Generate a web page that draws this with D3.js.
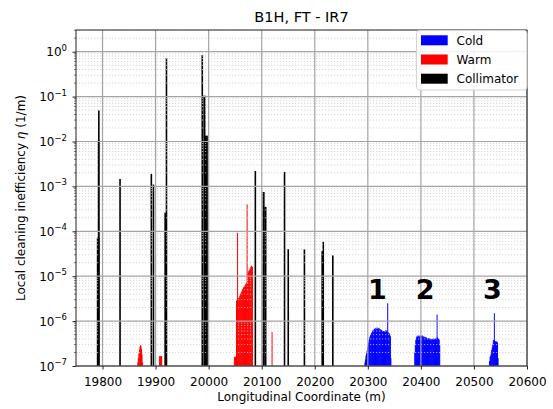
<!DOCTYPE html>
<html>
<head>
<meta charset="utf-8">
<script src="https://cdn.jsdelivr.net/npm/d3@7"></script>
<style>
body { margin: 0; background: #fff; }
text { font-family: "DejaVu Sans", sans-serif; fill: #000; }
</style>
</head>
<body>
<script>
// collimators: centre (m), length (m), eta (1/m)
var collPos = [19791.7, 19792.5, 19793, 19833, 19892, 19896, 19919, 19920.5, 19988, 19992, 19995.5,
               20088, 20103.5, 20107, 20143, 20150, 20180.5, 20214, 20216, 20234];
var collLen = [5, 3, 1, 1, 3, 3, 5, 1, 2, 4, 6, 1, 4, 4, 1, 1, 1, 3, 1.5, 1];
var collVal = [7.2e-5, 0.0105, 0.049, 1.46e-3, 1.9e-3, 1.1e-3, 2.6e-4, 0.72, 0.84, 0.105, 0.0135,
               2.2e-3, 7.5e-4, 3.5e-4, 2.1e-3, 4.0e-5, 4.0e-5, 3.6e-5, 5.8e-5, 2.9e-5];

// warm losses, 1 m bins starting at each start position
var warmStart = [19866, 19907, 20048, 20119];
var warmVals = [
  [1.2e-7, 1.5e-7, 1.9e-7, 2.3e-7, 2.7e-7, 2.9e-7, 2.8e-7, 2.4e-7, 1.8e-7, 1.2e-7],
  [1.65e-7, 1.65e-7, 1.65e-7, 1.65e-7, 1.65e-7],
  [1.6e-7, 1.6e-7, 1.6e-7, 1.6e-7, 2.8e-6, 3.0e-6, 9.3e-5, 3.1e-6, 3.3e-6, 3.2e-6,
   3.6e-6, 3.9e-6, 4.1e-6, 4.4e-6, 4.6e-6, 5.0e-6, 5.2e-6, 5.5e-6, 5.8e-6, 6.0e-6,
   6.3e-6, 6.5e-6, 6.8e-6, 7.0e-6, 4.0e-4, 7.2e-6, 1.2e-5, 1.3e-5, 1.35e-5, 1.4e-5,
   1.5e-5, 1.6e-5, 1.7e-5, 1.7e-5, 1.6e-5],
  [5.7e-7]
];

// cold losses, 1 m bins
var coldStart = [20294, 20388, 20529];
var coldVals = [
  [1.2e-7, 1.4e-7, 1.7e-7, 1.9e-7, 2.2e-7, 2.6e-7, 2.9e-7, 3.3e-7, 3.8e-7, 4.3e-7,
   4.6e-7, 5.0e-7, 5.3e-7, 5.5e-7, 5.9e-7, 6.2e-7, 6.4e-7, 6.1e-7, 6.7e-7, 6.9e-7,
   6.5e-7, 7.1e-7, 6.8e-7, 7.2e-7, 6.6e-7, 7.0e-7, 6.7e-7, 7.1e-7, 6.4e-7, 6.6e-7,
   6.2e-7, 6.4e-7, 5.9e-7, 6.1e-7, 5.8e-7, 6.0e-7, 5.7e-7, 5.9e-7, 5.8e-7, 6.2e-7,
   6.3e-7, 6.0e-7, 5.8e-7, 2.5e-6, 5.6e-7, 5.4e-7, 5.3e-7, 5.0e-7, 4.6e-7, 1.5e-7],
  [2.0e-7, 3.0e-7, 3.8e-7, 4.3e-7, 4.6e-7, 4.4e-7, 4.8e-7, 4.5e-7, 4.7e-7, 4.4e-7,
   4.8e-7, 4.6e-7, 4.7e-7, 4.5e-7, 4.8e-7, 4.4e-7, 4.6e-7, 4.3e-7, 4.5e-7, 4.2e-7,
   4.4e-7, 4.0e-7, 4.3e-7, 4.1e-7, 3.9e-7, 4.2e-7, 4.0e-7, 4.2e-7, 3.8e-7, 4.1e-7,
   3.9e-7, 4.0e-7, 3.7e-7, 4.0e-7, 3.8e-7, 4.1e-7, 3.9e-7, 4.0e-7, 3.8e-7, 4.1e-7,
   4.0e-7, 4.2e-7, 1.4e-6, 4.3e-7, 4.1e-7, 4.0e-7, 3.9e-7, 3.0e-7],
  [1.3e-7, 1.6e-7, 1.7e-7, 1.9e-7, 2.3e-7, 2.6e-7, 3.0e-7, 3.7e-7, 3.8e-7, 1.5e-6,
   3.6e-7, 3.5e-7, 3.6e-7, 3.4e-7, 3.5e-7, 3.3e-7, 1.5e-7]
];

var xTicks = [19800, 19900, 20000, 20100, 20200, 20300, 20400, 20500, 20600];
var yExps = [-7, -6, -5, -4, -3, -2, -1, 0];
var zoneLabels = ["1", "2", "3"];
var zonePos = [20318, 20408, 20535];
var zoneVal = [3.1e-6, 3.1e-6, 3.1e-6];
var legendNames = ["Cold", "Warm", "Collimator"];
var legendColors = ["#0000ff", "#ff0000", "#000000"];

var width = 553, height = 409;
var pLeft = 76, pRight = 527, pTop = 30, pBottom = 366;

var svg = d3.select("body").append("svg")
    .attr("width", width)
    .attr("height", height);

var x = d3.scaleLinear().domain([19750, 20600]).range([pLeft, pRight]);
var y = d3.scaleLog().domain([1e-7, 3.04]).range([pBottom, pTop]);

function toBins(starts, vals) {
    var arr = [];
    starts.forEach(function(s, i) {
        vals[i].forEach(function(v, j) {
            arr.push({pos: s + j + 0.5, len: 1, val: v});
        });
    });
    return arr;
}

var coldData = toBins(coldStart, coldVals);
var warmData = toBins(warmStart, warmVals);
var collData = collPos.map(function(p, i) {
    return {pos: p, len: collLen[i], val: collVal[i]};
});

var plot = svg.append("g");
plot.append("clipPath").attr("id", "clip")
    .append("rect").attr("x", pLeft).attr("y", pTop)
    .attr("width", pRight - pLeft).attr("height", pBottom - pTop);

function barW(d, minW) {
    return Math.max(minW, x(d.pos + d.len / 2) - x(d.pos - d.len / 2));
}

function drawBars(data, color, minW) {
    plot.append("g").attr("clip-path", "url(#clip)")
        .selectAll("rect")
        .data(data)
        .enter().append("rect")
        .attr("x", function(d) { return x(d.pos) - barW(d, minW) / 2; })
        .attr("width", function(d) { return barW(d, minW); })
        .attr("y", function(d) { return y(d.val); })
        .attr("height", function(d) { return pBottom - y(d.val); })
        .attr("fill", color);
}

drawBars(coldData, "#0000ff", 1);
drawBars(warmData, "#ff0000", 1);
drawBars(collData, "#000000", 1.6);

// grid on top of the bars
var minor = [];
yExps.forEach(function(e) {
    for (var k = 2; k <= 9; k++) {
        var v = k * Math.pow(10, e);
        if (v < y.domain()[1]) minor.push(v);
    }
});

var grid = svg.append("g");
grid.selectAll(".minor")
    .data(minor)
    .enter().append("line")
    .attr("x1", pLeft).attr("x2", pRight)
    .attr("y1", function(d) { return y(d); })
    .attr("y2", function(d) { return y(d); })
    .attr("stroke", "#cccccc")
    .attr("stroke-width", 0.8)
    .attr("stroke-dasharray", "1.2,1.8");

grid.selectAll(".hmaj")
    .data(yExps)
    .enter().append("line")
    .attr("x1", pLeft).attr("x2", pRight)
    .attr("y1", function(d) { return y(Math.pow(10, d)); })
    .attr("y2", function(d) { return y(Math.pow(10, d)); })
    .attr("stroke", "#a4a4a4")
    .attr("stroke-width", 1.2);

grid.selectAll(".vmaj")
    .data(xTicks)
    .enter().append("line")
    .attr("x1", function(d) { return x(d); })
    .attr("x2", function(d) { return x(d); })
    .attr("y1", pTop).attr("y2", pBottom)
    .attr("stroke", "#a4a4a4")
    .attr("stroke-width", 1.2);

// frame
svg.append("rect")
    .attr("x", pLeft).attr("y", pTop)
    .attr("width", pRight - pLeft).attr("height", pBottom - pTop)
    .attr("fill", "none")
    .attr("stroke", "#222")
    .attr("stroke-width", 1);

// x axis
var xAxis = svg.append("g")
    .attr("transform", "translate(0," + pBottom + ")")
    .call(d3.axisBottom(x).tickValues(xTicks).tickSize(3.5).tickFormat(function(d) { return d; }));
xAxis.select(".domain").remove();
xAxis.selectAll("line").attr("stroke", "#222");
xAxis.selectAll("text")
    .attr("y", 19.5).attr("dy", null)
    .style("font-size", "12px")
    .style("font-family", "DejaVu Sans");

// y axis
var yAxis = svg.append("g")
    .attr("transform", "translate(" + pLeft + ",0)")
    .call(d3.axisLeft(y).tickValues(yExps.map(function(e) { return Math.pow(10, e); }))
        .tickSize(3.5).tickFormat(""));
yAxis.select(".domain").remove();
yAxis.selectAll("line").attr("stroke", "#222");

yAxis.selectAll(".minorTick")
    .data(minor)
    .enter().append("line")
    .attr("x1", -2).attr("x2", 0)
    .attr("y1", function(d) { return y(d); })
    .attr("y2", function(d) { return y(d); })
    .attr("stroke", "#222")
    .attr("stroke-width", 0.6);

var yLab = yAxis.selectAll(".ylab")
    .data(yExps)
    .enter().append("text")
    .attr("x", -9)
    .attr("y", function(d) { return y(Math.pow(10, d)) + 4.6; })
    .attr("text-anchor", "end")
    .style("font-size", "12px");
yLab.append("tspan").text("10");
yLab.append("tspan")
    .attr("dy", -5.5)
    .style("font-size", "8.5px")
    .text(function(d) { return d < 0 ? "\u2212" + (-d) : d; });

// titles
svg.append("text")
    .attr("x", (pLeft + pRight) / 2).attr("y", 22)
    .attr("text-anchor", "middle")
    .style("font-size", "14.5px")
    .text("B1H, FT - IR7");

svg.append("text")
    .attr("x", (pLeft + pRight) / 2).attr("y", 400.5)
    .attr("text-anchor", "middle")
    .style("font-size", "12px")
    .text("Longitudinal Coordinate (m)");

var yt = svg.append("text")
    .attr("transform", "translate(25," + (pTop + pBottom) / 2 + ") rotate(-90)")
    .attr("text-anchor", "middle")
    .style("font-size", "12px");
yt.append("tspan").text("Local cleaning inefficiency ");
yt.append("tspan").style("font-style", "italic").text("\u03b7");
yt.append("tspan").text(" (1/m)");

// zone numbers
svg.selectAll(".zone")
    .data(zoneLabels)
    .enter().append("text")
    .attr("x", function(d, i) { return x(zonePos[i]); })
    .attr("y", function(d, i) { return y(zoneVal[i]); })
    .attr("text-anchor", "middle")
    .style("font-size", "27px")
    .style("font-weight", "bold")
    .text(function(d) { return d; });

// legend
var lg = svg.append("g");
lg.append("rect")
    .attr("x", 416.5).attr("y", 30.5)
    .attr("width", 110.5).attr("height", 59.5)
    .attr("rx", 3)
    .attr("fill", "#fff").attr("fill-opacity", 0.85)
    .attr("stroke", "#d4d4d4");
legendNames.forEach(function(n, i) {
    var cy = 40.3 + i * 19.2;
    lg.append("rect")
        .attr("x", 421).attr("y", cy - 5)
        .attr("width", 26.7).attr("height", 10)
        .attr("fill", legendColors[i]);
    lg.append("text")
        .attr("x", 456.5).attr("y", cy + 4.4)
        .style("font-size", "12px")
        .text(n);
});
</script>
</body>
</html>
